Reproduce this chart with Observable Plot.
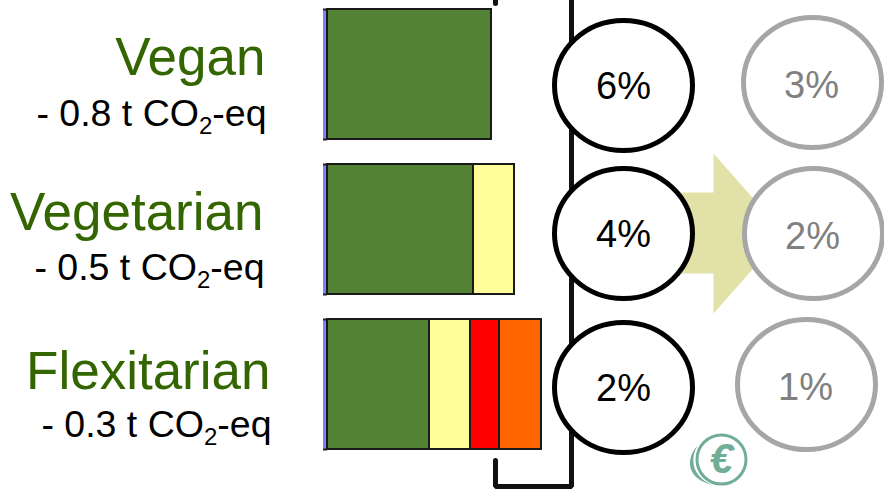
<!DOCTYPE html>
<html>
<head>
<meta charset="utf-8">
<script src="https://cdn.jsdelivr.net/npm/d3@7"></script>
<script src="https://cdn.jsdelivr.net/npm/@observablehq/plot@0.6"></script>
<style>
  html, body { margin: 0; padding: 0; background: #fff; }
  svg { display: block; }
</style>
</head>
<body>
<div id="chart"></div>
<script>
// Diet categories and their annual footprint saving
const diets = ["Vegan", "Vegetarian", "Flexitarian"];
const savings = [0.8, 0.5, 0.3];

// Food groups stacked in each bar
const groups = ["Other", "Plant", "Dairy", "Meat", "Poultry"];
const groupColors = ["#8080ff", "#548235", "#ffff99", "#ff0000", "#ff6600"];
const veganShares = [4, 164, 0, 0, 0];
const vegetarianShares = [4, 146, 41, 0, 0];
const flexitarianShares = [4, 102, 41, 29, 42];

// Percentages in the two columns of rings
const currentPct = [6, 4, 2];
const futurePct = [3, 2, 1];

// Layout of the diagram, in the pixel units of the identity scales
const W = 884, H = 490;
const barLeft = 323, barTop = [9, 164, 319], barHeight = 130;
const labelRight = [265, 263, 270];
const nameY = [58, 213, 372];
const savingY = [113, 267, 424];
const ringX = [[623, 623, 623], [812, 813, 806]];
const ringY = [[85, 233, 387], [82, 233, 384]];
const ringRx = 69, ringRy = 65;

const shares = [veganShares, vegetarianShares, flexitarianShares];
const segments = diets.flatMap((diet, r) => {
  let x = barLeft;
  return groups.map((group, g) => {
    const x1 = x;
    x += shares[r][g];
    return {diet, group, color: groupColors[g], x1, x2: x, y1: barTop[r], y2: barTop[r] + barHeight};
  }).filter(d => d.x2 > d.x1);
});
const edgeBand = segments.filter(d => d.group === "Other");
const filled = segments.filter(d => d.group !== "Other");

// Rings are slightly wider than tall, so the dot mark gets an elliptical symbol
const ellipse = {
  draw(ctx) {
    const k = 0.5523, a = ringRx, b = ringRy;
    ctx.moveTo(a, 0);
    ctx.bezierCurveTo(a, k * b, k * a, b, 0, b);
    ctx.bezierCurveTo(-k * a, b, -a, k * b, -a, 0);
    ctx.bezierCurveTo(-a, -k * b, -k * a, -b, 0, -b);
    ctx.bezierCurveTo(k * a, -b, a, -k * b, a, 0);
    ctx.closePath();
  }
};

// Crescent hugging the lower left of the coin
const crescent = {
  draw(ctx) {
    ctx.moveTo(-24, -14);
    ctx.bezierCurveTo(-38, 2, -32, 20, -10, 25);
    ctx.bezierCurveTo(-27, 18, -33, 2, -24, -14);
    ctx.closePath();
  }
};

const rings = (xs, ys, stroke) => xs.map((x, i) => ({x, y: ys[i], stroke}));
const ringRows = [...rings(ringX[0], ringY[0], "#000000"), ...rings(ringX[1], ringY[1], "#a6a6a6")];

const pctLabels = [
  ...currentPct.map((p, i) => ({text: `${p}%`, x: ringX[0][i], y: ringY[0][i] + 1, fill: "#000000"})),
  ...futurePct.map((p, i) => ({text: `${p}%`, x: ringX[1][i] - 1, y: ringY[1][i] + 3, fill: "#808080"}))
];

const bracketMain = [[495, 460], [495, 486], [571, 486], [571, 0]].map(([x, y]) => ({x, y}));
const bracketStub = [[495, 0], [495, 3]].map(([x, y]) => ({x, y}));
const arrow = [[670, 192], [713, 192], [713, 153], [784, 233], [713, 313], [713, 273], [670, 273]].map(([x, y]) => ({x, y}));

// Sets the "2" of CO2 as a subscript while keeping one text element
function subscriptCO2(index, scales, values, dims, ctx, next) {
  const g = next(index, scales, values, dims, ctx);
  d3.select(g).selectAll("text").each(function () {
    const t = this.textContent;
    const [before, after] = t.split("CO2");
    const sel = d3.select(this).text(null);
    sel.append("tspan").text(before + "CO");
    sel.append("tspan").attr("dy", 8).attr("font-size", 24).text("2");
    sel.append("tspan").attr("dy", -8).text(after);
  });
  return g;
}

const chart = Plot.plot({
  width: W,
  height: H,
  margin: 0,
  x: {domain: [0, W], range: [0, W], axis: null},
  y: {domain: [0, H], range: [0, H], axis: null},
  style: {background: "#fff", fontFamily: "'Liberation Sans', Arial, sans-serif"},
  marks: [
    // Bracket joining the bars to the first column of rings
    Plot.line(bracketMain, {x: "x", y: "y", stroke: "#111", strokeWidth: 5, strokeLinejoin: "miter"}),
    Plot.line(bracketStub, {x: "x", y: "y", stroke: "#111", strokeWidth: 5}),

    // Stacked bars
    Plot.rect(edgeBand, {x1: "x1", x2: "x2", y1: "y1", y2: "y2", fill: "color"}),
    Plot.ruleY(edgeBand, {y: "y1", x1: "x1", x2: "x2", stroke: "#222", strokeWidth: 2}),
    Plot.ruleY(edgeBand, {y: "y2", x1: "x1", x2: "x2", stroke: "#222", strokeWidth: 2}),
    Plot.rect(filled, {x1: "x1", x2: "x2", y1: "y1", y2: "y2", fill: "color", stroke: "#1a1a1a", strokeWidth: 2, inset: 0}),

    // Arrow from current to future shares
    Plot.line(arrow, {x: "x", y: "y", fill: "#e2e2a8", stroke: "none"}),

    // Rings and percentages
    Plot.dot(ringRows, {x: "x", y: "y", symbol: ellipse, r: 10, fill: "#fff", stroke: "stroke", strokeWidth: 5}),
    Plot.text(pctLabels, {x: "x", y: "y", text: "text", fill: "fill", fontSize: 38}),

    // Diet names and savings
    Plot.text(diets, {
      x: (d, i) => labelRight[i], y: (d, i) => nameY[i], text: d => d,
      textAnchor: "end", fill: "#336600", fontSize: 53
    }),
    Plot.text(savings, {
      x: (d, i) => labelRight[i] + 1, y: (d, i) => savingY[i],
      text: d => `- ${d} t CO2-eq`,
      textAnchor: "end", fill: "#000", fontSize: 37.5, render: subscriptCO2
    }),

    // Coin badge
    Plot.dot([0], {x: 721, y: 459, symbol: crescent, r: 10, fill: "#72ad96", stroke: "none"}),
    Plot.dot([0], {x: 721, y: 459, r: 24.5, fill: "#fff", stroke: "#72ad96", strokeWidth: 3}),
    Plot.text(["€"], {x: 721, y: 459, text: d => d, fill: "#72ad96", fontSize: 42, fontWeight: "bold", fontStyle: "italic"})
  ]
});

document.getElementById("chart").append(chart);
</script>
</body>
</html>
